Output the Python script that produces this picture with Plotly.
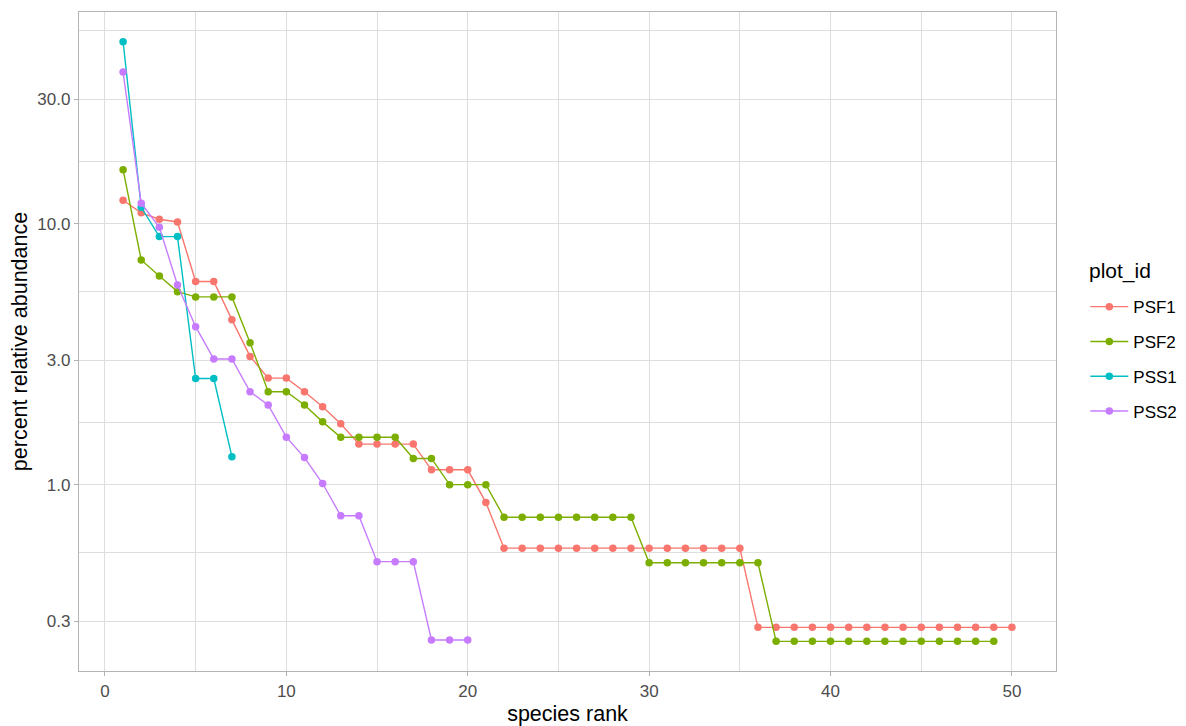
import plotly.graph_objects as go

series_names = ["PSF1", "PSF2", "PSS1", "PSS2"]
colors = ["#F8766D", "#7CAE00", "#00BFC4", "#C77CFF"]

psf1 = [12.3, 11.0, 10.4, 10.15, 6.0, 6.0, 4.28, 3.1, 2.56, 2.56, 2.27, 1.99, 1.71,
        1.43, 1.43, 1.43, 1.43, 1.14, 1.14, 1.14, 0.855] + [0.571] * 14 + [0.284] * 15
psf2 = [16.1, 7.26, 6.3, 5.49, 5.24, 5.24, 5.24, 3.5, 2.27, 2.27, 2.02, 1.74,
        1.52, 1.52, 1.52, 1.52, 1.26, 1.26, 1.0, 1.0, 1.0] + [0.75] * 8 + [0.502] * 7 + [0.251] * 13
pss1 = [49.8, 11.55, 8.92, 8.92, 2.55, 2.55, 1.28]
pss2 = [38.1, 11.97, 9.69, 5.82, 4.03, 3.03, 3.03, 2.27, 2.02, 1.52, 1.27, 1.01,
        0.76, 0.76, 0.507, 0.507, 0.507, 0.254, 0.254, 0.254]
series_values = [psf1, psf2, pss1, pss2]

y_tick_vals = [0.3, 1, 3, 10, 30]
y_tick_text = ["0.3", "1.0", "3.0", "10.0", "30.0"]
y_minor_vals = [0.548, 1.732, 5.477, 17.32, 54.77]
x_tick_vals = [0, 10, 20, 30, 40, 50]
x_minor_vals = [5, 15, 25, 35, 45]

FONT = "Liberation Sans, Arial, sans-serif"
GRID = "#DEDEDE"
BORDER = "#B3B3B3"

fig = go.Figure()
for i, (name, vals, col) in enumerate(zip(series_names, series_values, colors)):
    ranks = list(range(1, len(vals) + 1))
    fig.add_trace(go.Scatter(
        x=ranks, y=vals, mode="lines+markers", name=name,
        legendgroup=name,
        line=dict(color=col, width=1.4),
        marker=dict(color=col, size=7.5),
    ))

fig.add_annotation(
    text="plot_id", xref="paper", yref="paper", x=1.032, y=0.607,
    xanchor="left", yanchor="middle", showarrow=False,
    font=dict(size=21, color="black"),
)

fig.update_layout(
    width=1178, height=718,
    margin=dict(l=71, r=130, t=4, b=55),
    paper_bgcolor="white", plot_bgcolor="white",
    font=dict(family=FONT, color="black"),
    showlegend=True,
    legend=dict(
        font=dict(size=17, color="black"),
        x=1.03, xanchor="left", y=0.5795, yanchor="top",
        traceorder="grouped", tracegroupgap=9.7,
        bgcolor="rgba(0,0,0,0)", itemwidth=38,
    ),
    xaxis=dict(
        range=[-1.43, 52.43],
        tickvals=x_tick_vals, ticktext=[str(v) for v in x_tick_vals],
        showgrid=True, gridcolor=GRID, gridwidth=1.3,
        minor=dict(tickvals=x_minor_vals, showgrid=True, gridcolor=GRID, gridwidth=0.8, ticks=""),
        zeroline=False,
        showline=True, mirror=True, linecolor=BORDER, linewidth=1.3,
        ticks="outside", ticklen=4, tickcolor=BORDER, tickwidth=1.2,
        tickfont=dict(size=17, color="#4D4D4D"),
        title=dict(text="species rank", font=dict(size=21.5, color="black"), standoff=6),
    ),
    yaxis=dict(
        type="log", range=[-0.714, 1.811],
        tickvals=y_tick_vals, ticktext=y_tick_text,
        showgrid=True, gridcolor=GRID, gridwidth=1.3,
        minor=dict(tickvals=y_minor_vals, showgrid=True, gridcolor=GRID, gridwidth=0.8, ticks=""),
        zeroline=False,
        showline=True, mirror=True, linecolor=BORDER, linewidth=1.3,
        ticks="outside", ticklen=4, tickcolor=BORDER, tickwidth=1.2,
        tickfont=dict(size=17, color="#4D4D4D"),
        title=dict(text="percent relative abundance", font=dict(size=21.5, color="black"), standoff=6),
    ),
)

fig.write_html("out.html")
